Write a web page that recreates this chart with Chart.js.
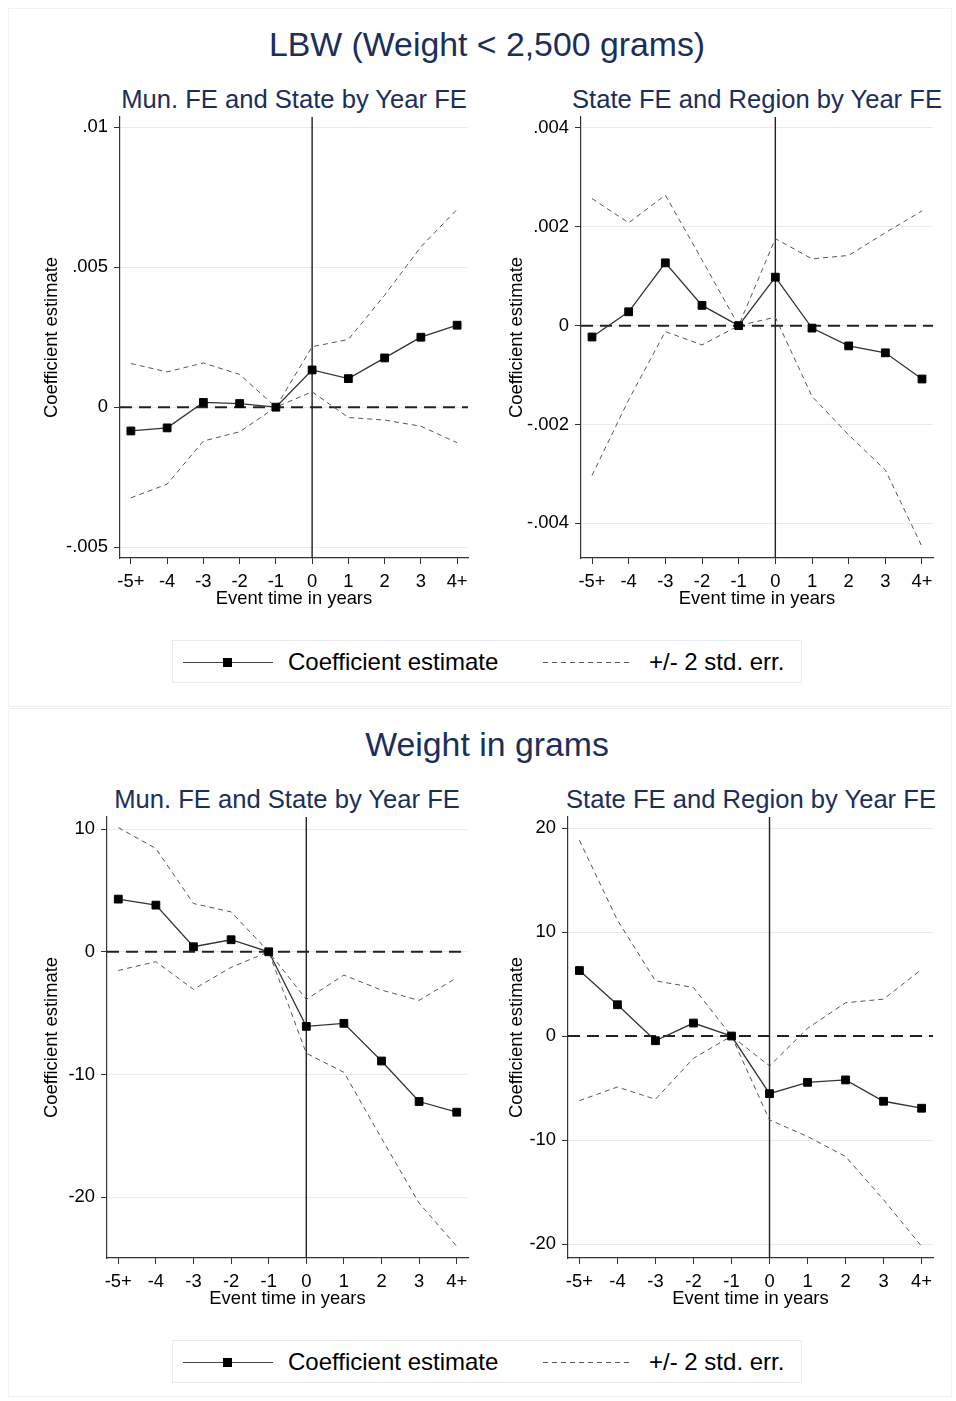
<!DOCTYPE html>
<html>
<head>
<meta charset="utf-8">
<script src="https://cdn.jsdelivr.net/npm/chart.js@4"></script>
<style>
  body { margin: 0; background: #fff; font-family: 'Liberation Sans', Arial, sans-serif; }
  #page { position: relative; width: 956px; height: 1401px; overflow: hidden; }
  .frame { position: absolute; border: 1px solid #f0f2f3; }
  .title { position: absolute; transform: translateX(-50%); white-space: nowrap; line-height: 1; color: #1c2e5a; }
  .big { font-size: 33.8px; }
  .sub { font-size: 25.6px; }
  canvas { position: absolute; }
  .legend { position: absolute; left: 172px; width: 630px; height: 43px; border: 1px solid #e6ecef; box-sizing: border-box; }
  .legend span { position: absolute; top: 50%; transform: translateY(-50%); font-size: 24px; line-height: 1; color: #000; white-space: nowrap; }
  .solid { position: absolute; left: 10px; width: 90px; top: 21px; height: 1.3px; background: #444; }
  .solid i { position: absolute; left: 40px; top: -4px; width: 9px; height: 9px; background: #000; }
  .dash { position: absolute; left: 370px; width: 90px; top: 21px; height: 1px;
          background: repeating-linear-gradient(to right, #555 0 5px, transparent 5px 9px); }
</style>
</head>
<body>
<div id="page">
  <div class="frame" style="left:8px; top:8px; width:942px; height:697px;"></div>
  <div class="frame" style="left:8px; top:708px; width:942px; height:687px;"></div>

  <div class="title big" style="left:487px; top:28px;">LBW (Weight &lt; 2,500 grams)</div>
  <div class="title sub" style="left:294px; top:87px;">Mun. FE and State by Year FE</div>
  <div class="title sub" style="left:757px; top:87px;">State FE and Region by Year FE</div>

  <div class="title big" style="left:487px; top:728px;">Weight in grams</div>
  <div class="title sub" style="left:287px; top:787px;">Mun. FE and State by Year FE</div>
  <div class="title sub" style="left:751px; top:787px;">State FE and Region by Year FE</div>

  <canvas id="p1"></canvas>
  <canvas id="p2"></canvas>
  <canvas id="p3"></canvas>
  <canvas id="p4"></canvas>

  <div class="legend" style="top:640px;">
    <div class="solid"><i></i></div><span style="left:115px;">Coefficient estimate</span>
    <div class="dash"></div><span style="left:476px;">+/- 2 std. err.</span>
  </div>
  <div class="legend" style="top:1340px;">
    <div class="solid"><i></i></div><span style="left:115px;">Coefficient estimate</span>
    <div class="dash"></div><span style="left:476px;">+/- 2 std. err.</span>
  </div>
</div>

<script>
// eixo x: tempo do evento
const eventLabels = ['-5+', '-4', '-3', '-2', '-1', '0', '1', '2', '3', '4+']
const eventZero = 5

// LBW, Mun. FE and State by Year FE
const lbwMunCoef  = [-0.00085, -0.00074, 0.00017, 0.00013, 0, 0.00133, 0.00102, 0.00176, 0.0025, 0.00293]
const lbwMunUpper = [0.00156, 0.00126, 0.00158, 0.00117, 0, 0.00216, 0.00242, 0.004, 0.00573, 0.00707]
const lbwMunLower = [-0.00324, -0.00275, -0.00121, -0.00088, 0, 0.00055, -0.00037, -0.00046, -0.00068, -0.00127]
const lbwMunTicks = [-0.005, 0, 0.005, 0.01]
const lbwMunTickLabels = ['-.005', '0', '.005', '.01']

// LBW, State FE and Region by Year FE
const lbwStateCoef  = [-0.00023, 0.00028, 0.00127, 0.00041, 0, 0.00098, -0.00005, -0.00041, -0.00055, -0.00108]
const lbwStateUpper = [0.00257, 0.00208, 0.00264, 0.00133, 0, 0.00176, 0.00135, 0.00142, 0.00188, 0.00232]
const lbwStateLower = [-0.00303, -0.0015, -0.00012, -0.00039, 0, 0.00017, -0.00143, -0.00221, -0.00292, -0.00447]
const lbwStateTicks = [-0.004, -0.002, 0, 0.002, 0.004]
const lbwStateTickLabels = ['-.004', '-.002', '0', '.002', '.004']

// Weight in grams, Mun. FE and State by Year FE
const wgtMunCoef  = [4.29, 3.8, 0.41, 0.98, 0, -6.08, -5.83, -8.9, -12.2, -13.07]
const wgtMunUpper = [10.12, 8.41, 3.93, 3.25, 0, -3.88, -1.9, -3.12, -3.96, -2.12]
const wgtMunLower = [-1.52, -0.81, -3.06, -1.27, 0, -8.27, -9.82, -15.2, -20.48, -24.0]
const wgtMunTicks = [-20, -10, 0, 10]
const wgtMunTickLabels = ['-20', '-10', '0', '10']

// Weight in grams, State FE and Region by Year FE
const wgtStateCoef  = [6.3, 3.01, -0.45, 1.25, 0, -5.54, -4.45, -4.22, -6.27, -6.94]
const wgtStateUpper = [18.82, 11.14, 5.31, 4.67, 0, -2.88, 0.74, 3.2, 3.55, 6.4]
const wgtStateLower = [-6.21, -4.9, -6.08, -2.14, 0, -8.06, -9.66, -11.58, -15.74, -20.22]
const wgtStateTicks = [-20, -10, 0, 10, 20]
const wgtStateTickLabels = ['-20', '-10', '0', '10', '20']

const FONT = "'Liberation Sans', Arial, sans-serif"
const TAM = 18.4            // tamanho da fonte dos eixos
const HALF_TITLE = TAM * 0.6 // metade da altura de linha do título do eixo
const MARGEM = 18            // folga acima e à direita da área do gráfico

const paineis = [
    { id: 'p1', coef: lbwMunCoef, upper: lbwMunUpper, lower: lbwMunLower, ticks: lbwMunTicks, tickLabels: lbwMunTickLabels,
      yMin: -0.00539, yMax: 0.01037, area: { l: 120, r: 468, t: 117, b: 558 }, yTitleX: 52, xTitleY: 599 },
    { id: 'p2', coef: lbwStateCoef, upper: lbwStateUpper, lower: lbwStateLower, ticks: lbwStateTicks, tickLabels: lbwStateTickLabels,
      yMin: -0.0047, yMax: 0.00422, area: { l: 581, r: 933, t: 117, b: 558 }, yTitleX: 517, xTitleY: 599 },
    { id: 'p3', coef: wgtMunCoef, upper: wgtMunUpper, lower: wgtMunLower, ticks: wgtMunTicks, tickLabels: wgtMunTickLabels,
      yMin: -24.95, yMax: 10.98, area: { l: 107, r: 468, t: 817, b: 1258 }, yTitleX: 52, xTitleY: 1299 },
    { id: 'p4', coef: wgtStateCoef, upper: wgtStateUpper, lower: wgtStateLower, ticks: wgtStateTicks, tickLabels: wgtStateTickLabels,
      yMin: -21.34, yMax: 21.06, area: { l: 568, r: 933, t: 817, b: 1258 }, yTitleX: 517, xTitleY: 1299 },
]

/** linhas de referência: vertical em t=0 e tracejada em y=0 */
const linhasReferencia = {
    id: 'linhasReferencia',
    beforeDatasetsDraw(chart) {
        const { ctx, chartArea, scales } = chart
        const px = scales.x.getPixelForValue(eventZero)
        const py = scales.y.getPixelForValue(0)
        ctx.save()
        ctx.strokeStyle = '#222'
        ctx.lineWidth = 1.4
        ctx.beginPath()
        ctx.moveTo(px, chartArea.top)
        ctx.lineTo(px, chartArea.bottom)
        ctx.stroke()
        ctx.lineWidth = 2
        ctx.setLineDash([12, 7])
        ctx.beginPath()
        ctx.moveTo(chartArea.left, py)
        ctx.lineTo(chartArea.right, py)
        ctx.stroke()
        ctx.restore()
    }
}

function pontos(valores) {
    return valores.map((v, i) => ({ x: i, y: v }))
}

function desenhaPainel(p) {
    const canvas = document.getElementById(p.id)
    const left = Math.round(p.yTitleX - HALF_TITLE)
    const top = p.area.t - MARGEM
    const width = p.area.r + MARGEM - left
    const bottom = Math.round(p.xTitleY + HALF_TITLE)
    canvas.width = width
    canvas.height = bottom - top
    canvas.style.left = left + 'px'
    canvas.style.top = top + 'px'

    const banda = (dados) => ({
        data: pontos(dados),
        borderColor: '#555',
        borderWidth: 1,
        borderDash: [5, 4],
        pointRadius: 0,
        fill: false,
        tension: 0,
    })

    new Chart(canvas.getContext('2d'), {
        type: 'line',
        data: {
            datasets: [
                {
                    data: pontos(p.coef),
                    borderColor: '#333',
                    borderWidth: 1.3,
                    pointStyle: 'rect',
                    pointRadius: 5.5,
                    pointBorderWidth: 1,
                    pointBackgroundColor: '#000',
                    pointBorderColor: '#000',
                    tension: 0,
                },
                banda(p.upper),
                banda(p.lower),
            ]
        },
        options: {
            responsive: false,
            animation: false,
            layout: { padding: { left: 0, top: MARGEM, right: MARGEM, bottom: 0 } },
            scales: {
                x: {
                    type: 'linear',
                    min: -0.3,
                    max: 9.3,
                    afterBuildTicks: (s) => { s.ticks = eventLabels.map((_, i) => ({ value: i })) },
                    afterFit: (s) => { s.height = bottom - p.area.b },
                    ticks: {
                        autoSkip: false,
                        maxRotation: 0,
                        padding: 7,
                        color: '#000',
                        font: { family: FONT, size: TAM },
                        callback: (v) => eventLabels[v],
                    },
                    grid: { drawOnChartArea: false, tickLength: 6, tickColor: '#333', tickWidth: 1 },
                    border: { color: '#333', width: 1.2 },
                    title: { display: true, text: 'Event time in years', color: '#000', padding: 0,
                             font: { family: FONT, size: TAM, lineHeight: 1.2 } },
                },
                y: {
                    min: p.yMin,
                    max: p.yMax,
                    afterBuildTicks: (s) => { s.ticks = p.ticks.map(v => ({ value: v })) },
                    afterFit: (s) => { s.width = p.area.l - left },
                    ticks: {
                        padding: 6,
                        color: '#000',
                        font: { family: FONT, size: TAM },
                        callback: (v, i) => p.tickLabels[i],
                    },
                    grid: { color: '#e4ecef', lineWidth: 1, tickLength: 6, tickColor: '#333', tickWidth: 1 },
                    border: { color: '#333', width: 1.2 },
                    title: { display: true, text: 'Coefficient estimate', color: '#000', padding: 0,
                             font: { family: FONT, size: TAM, lineHeight: 1.2 } },
                },
            },
            plugins: {
                legend: { display: false },
                tooltip: { enabled: false },
            },
        },
        plugins: [linhasReferencia],
    })
}

paineis.forEach(desenhaPainel)
</script>
</body>
</html>
